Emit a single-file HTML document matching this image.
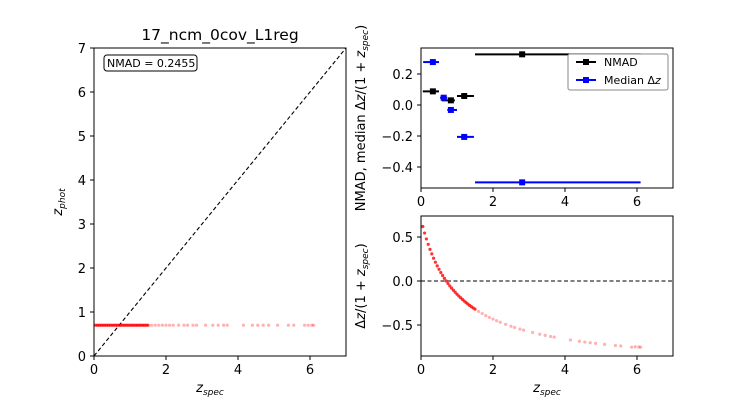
<!DOCTYPE html>
<html><head><meta charset="utf-8"><style>
body{margin:0;background:#fff}
svg{display:block;font-family:"DejaVu Sans","Liberation Sans",sans-serif}
</style></head><body>
<svg id="c" width="748" height="400" viewBox="0 0 748 400"></svg>
<script>
const zspec=[0.05,0.1,0.15,0.2,0.25,0.3,0.35,0.4,0.45,0.5,0.55,0.6,0.65,0.7,0.75,0.8,0.85,0.9,0.95,1.0,1.05,1.1,1.15,1.2,1.25,1.3,1.35,1.4,1.45,1.5,1.6,1.7,1.8,1.9,2.0,2.1,2.2,2.35,2.5,2.6,2.75,2.85,3.1,3.3,3.45,3.6,3.7,4.15,4.4,4.55,4.7,4.85,5.1,5.4,5.55,5.85,5.95,6.05,6.1];
const zphot=[0.7,0.7,0.7,0.7,0.7,0.7,0.7,0.7,0.7,0.7,0.7,0.7,0.7,0.7,0.7,0.7,0.7,0.7,0.7,0.7,0.7,0.7,0.7,0.7,0.7,0.7,0.7,0.7,0.7,0.7,0.7,0.7,0.7,0.7,0.7,0.7,0.7,0.7,0.7,0.7,0.7,0.7,0.7,0.7,0.7,0.7,0.7,0.7,0.7,0.7,0.7,0.7,0.7,0.7,0.7,0.7,0.7,0.7,0.7];
const dz=[0.619,0.545,0.478,0.417,0.36,0.308,0.259,0.214,0.172,0.133,0.097,0.0625,0.03,0,-0.029,-0.056,-0.081,-0.105,-0.128,-0.15,-0.171,-0.19,-0.209,-0.227,-0.244,-0.261,-0.277,-0.292,-0.306,-0.32,-0.346,-0.37,-0.393,-0.414,-0.433,-0.452,-0.469,-0.493,-0.514,-0.528,-0.547,-0.558,-0.585,-0.605,-0.618,-0.63,-0.638,-0.67,-0.685,-0.694,-0.702,-0.709,-0.72,-0.733,-0.738,-0.752,-0.747,-0.75,-0.752];
const nmadX=[0.33,0.83,1.2,2.81];
const nmadLo=[0.05,0.58,1.0,1.5];
const nmadHi=[0.5,0.94,1.47,6.1];
const nmadY=[0.088,0.03,0.058,0.327];
const medX=[0.33,0.63,0.83,1.2,2.81];
const medLo=[0.06,0.53,0.73,1.0,1.5];
const medHi=[0.5,0.73,1.0,1.47,6.1];
const medY=[0.277,0.047,-0.032,-0.206,-0.499];
const xTicksL=[0,1,2,3,4,5,6,7];
const xTicksR=[0,2,4,6];
const yTicksTop=[0.2,0.0,-0.2,-0.4];
const yTicksBot=[0.5,0.0,-0.5];

const NS="http://www.w3.org/2000/svg";
const svg=document.getElementById('c');
function el(t,a,p){const e=document.createElementNS(NS,t);for(const k in a)e.setAttribute(k,a[k]);(p||svg).appendChild(e);return e;}
function txt(s,a,p){const e=el('text',a,p);e.innerHTML=s;return e;}
const lin=(d0,d1,r0,r1)=>v=>r0+(v-d0)*(r1-r0)/(d1-d0);

// Left
const lx=lin(0,7,94,346), ly=lin(0,7,356,48);
const gL=el('g',{});
el('line',{x1:lx(0),y1:ly(0),x2:lx(7),y2:ly(7),stroke:'#000','stroke-dasharray':'4,2.5','stroke-width':1.1},gL);
zspec.forEach((z,i)=>{const c=el('circle',{cx:lx(z),cy:ly(zphot[i]),r:1.6,fill:'red','fill-opacity':z<1.6?0.8:0.3},gL);});
el('rect',{x:94,y:48,width:252,height:308,fill:'none',stroke:'#000','stroke-width':1},gL);
xTicksL.forEach(t=>{if(t%2)return;el('line',{x1:lx(t),x2:lx(t),y1:356,y2:360,stroke:'#000'},gL);txt(t,{x:lx(t),y:374,'font-size':13,'text-anchor':'middle'},gL);});
xTicksL.forEach(t=>{el('line',{x1:90,x2:94,y1:ly(t),y2:ly(t),stroke:'#000'},gL);txt(t,{x:86,y:ly(t)+5,'font-size':13,'text-anchor':'end'},gL);});
txt('17_ncm_0cov_L1reg',{x:220,y:40,'font-size':15.5,'text-anchor':'middle'},gL);
txt('z<tspan font-size="9" dy="3">spec</tspan>',{x:210,y:392,'font-size':13,'text-anchor':'middle','font-style':'italic'},gL);
txt('z<tspan font-size="9" dy="3">phot</tspan>',{x:0,y:0,'font-size':13,'text-anchor':'middle','font-style':'italic',transform:'translate(62,202) rotate(-90)'},gL);
el('rect',{x:104,y:55,width:93,height:16,rx:3,fill:'#fff',stroke:'#000'},gL);
txt('NMAD = 0.2455',{x:107,y:67,'font-size':11},gL);

// Top right
const tx=lin(0,7,421,673), ty=lin(0,0.2,105,74);
const gT=el('g',{});
function eb(x,lo,hi,y,col,name){const g=el('g',{},gT);
el('line',{x1:tx(lo),x2:tx(hi),y1:ty(y),y2:ty(y),stroke:col,'stroke-width':2},g);el('rect',{x:tx(x)-3,y:ty(y)-3,width:6,height:6,fill:col},g);}
nmadX.forEach((x,i)=>eb(x,nmadLo[i],nmadHi[i],nmadY[i],'#000','nmad-point'));
medX.forEach((x,i)=>eb(x,medLo[i],medHi[i],medY[i],'#00f','median-point'));
el('rect',{x:421,y:48,width:252,height:140,fill:'none',stroke:'#000'},gT);
xTicksR.forEach(t=>{el('line',{x1:tx(t),x2:tx(t),y1:188,y2:192,stroke:'#000'},gT);txt(t,{x:tx(t),y:206,'font-size':13,'text-anchor':'middle'},gT);});
yTicksTop.forEach(t=>{el('line',{x1:417,x2:421,y1:ty(t),y2:ty(t),stroke:'#000'},gT);txt((t<0?'−':'')+Math.abs(t).toFixed(1),{x:413,y:ty(t)+5,'font-size':13,'text-anchor':'end'},gT);});
txt('NMAD, median Δ<tspan font-style="italic">z</tspan>/(1 + <tspan font-style="italic">z</tspan><tspan font-size="9" dy="3" font-style="italic">spec</tspan><tspan dy="-3">)</tspan>',{x:0,y:0,'font-size':13,'text-anchor':'middle',transform:'translate(365,118) rotate(-90)'},gT);
const lg=el('g',{},gT);
el('rect',{x:568,y:54,width:100,height:36,rx:2,fill:'#fff',stroke:'#888'},lg);
el('line',{x1:576,x2:596,y1:62,y2:62,stroke:'#000','stroke-width':2},lg);el('rect',{x:583,y:59,width:6,height:6,fill:'#000'},lg);
txt('NMAD',{x:604,y:66,'font-size':11},lg);
el('line',{x1:576,x2:596,y1:80,y2:80,stroke:'#00f','stroke-width':2},lg);el('rect',{x:583,y:77,width:6,height:6,fill:'#00f'},lg);
txt('Median Δ<tspan font-style="italic">z</tspan>',{x:604,y:84,'font-size':11},lg);

// Bottom right
const by=lin(0,0.5,281,237);
const gB=el('g',{});
el('line',{x1:421,x2:673,y1:by(0),y2:by(0),stroke:'#000','stroke-dasharray':'4,2.5'},gB);
zspec.forEach((z,i)=>{const c=el('circle',{cx:tx(z),cy:by(dz[i]),r:1.6,fill:'red','fill-opacity':z<1.6?0.8:0.3},gB);});
el('rect',{x:421,y:216,width:252,height:140,fill:'none',stroke:'#000'},gB);
xTicksR.forEach(t=>{el('line',{x1:tx(t),x2:tx(t),y1:356,y2:360,stroke:'#000'},gB);txt(t,{x:tx(t),y:374,'font-size':13,'text-anchor':'middle'},gB);});
yTicksBot.forEach(t=>{el('line',{x1:417,x2:421,y1:by(t),y2:by(t),stroke:'#000'},gB);txt((t<0?'−':'')+Math.abs(t).toFixed(1),{x:413,y:by(t)+5,'font-size':13,'text-anchor':'end'},gB);});
txt('z<tspan font-size="9" dy="3">spec</tspan>',{x:547,y:392,'font-size':13,'text-anchor':'middle','font-style':'italic'},gB);
txt('Δ<tspan font-style="italic">z</tspan>/(1 + <tspan font-style="italic">z</tspan><tspan font-size="9" dy="3" font-style="italic">spec</tspan><tspan dy="-3">)</tspan>',{x:0,y:0,'font-size':13,'text-anchor':'middle',transform:'translate(365,286) rotate(-90)'},gB);
</script>
</body></html>
